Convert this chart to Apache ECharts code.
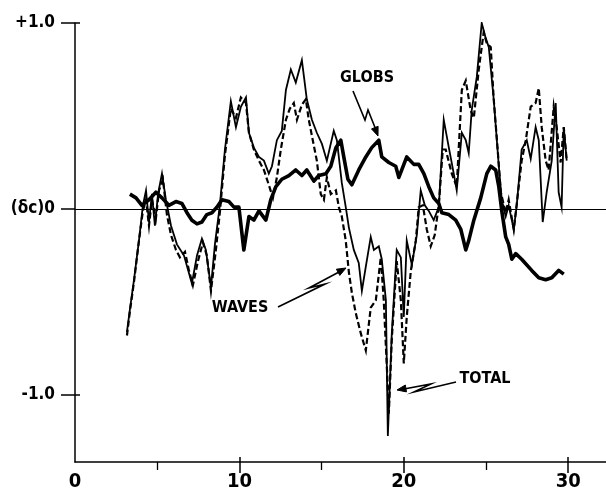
<!DOCTYPE html>
<html>
<head>
<meta charset="utf-8">
<script src="https://cdn.jsdelivr.net/npm/echarts@6/dist/echarts.min.js"></script>
<style>
  html, body { margin: 0; padding: 0; background: #fff; }
  #chart { width: 606px; height: 492px; }
</style>
</head>
<body>
<div id="chart"></div>
<script>
// δc 随时间变化：TOTAL = WAVES + GLOBS

// 坐标轴范围与刻度
const xMin = 0;
const xMax = 32.3;
const yMin = -1.36;
const yMax = 1.0;
const xMajorTicks = [10, 20, 30];
const xMinorTicks = [5, 15, 25];
const xLabelValues = [0, 10, 20, 30];
const yTickValues = [-1, 0, 1];
const yTickLabels = { '-1': '-1.0', '0': '(δc)0', '1': '+1.0' };

// TOTAL（细实线）
const totalPts = [
  [3.16,-0.66],[3.34,-0.54],[3.59,-0.38],[3.89,-0.17],[4.13,0.02],[4.32,0.10],[4.50,-0.07],
  [4.68,0.08],[4.86,-0.09],[5.05,0.08],[5.29,0.19],[5.53,0.05],[5.84,-0.09],[6.20,-0.19],
  [6.63,-0.25],[7.11,-0.40],[7.42,-0.25],[7.72,-0.16],[7.96,-0.22],[8.27,-0.42],[8.51,-0.19],
  [8.81,0.02],[9.12,0.32],[9.48,0.58],[9.79,0.44],[10.09,0.55],[10.40,0.60],[10.58,0.41],
  [10.88,0.33],[11.19,0.28],[11.49,0.26],[11.79,0.19],[11.98,0.23],[12.28,0.37],[12.58,0.42],
  [12.83,0.64],[13.13,0.75],[13.43,0.68],[13.80,0.80],[14.10,0.59],[14.41,0.48],[14.71,0.41],
  [15.02,0.35],[15.32,0.26],[15.74,0.42],[15.93,0.37],[16.23,0.14],[16.47,0.01],[16.66,-0.10],
  [16.96,-0.22],[17.26,-0.29],[17.45,-0.44],[17.69,-0.31],[17.99,-0.15],[18.18,-0.22],[18.48,-0.20],
  [18.66,-0.27],[18.91,-0.49],[19.03,-1.22],[19.27,-0.67],[19.57,-0.22],[19.82,-0.26],[20.00,-0.58],
  [20.18,-0.17],[20.49,-0.30],[20.79,-0.14],[21.03,0.10],[21.28,0.02],[21.52,-0.01],[21.82,-0.06],
  [22.13,0.01],[22.43,0.48],[22.74,0.33],[23.04,0.19],[23.22,0.10],[23.53,0.41],[23.77,0.37],
  [23.95,0.30],[24.13,0.53],[24.44,0.71],[24.74,1.00],[24.98,0.92],[25.17,0.87],[25.47,0.59],
  [25.78,0.23],[25.96,0.05],[26.20,-0.04],[26.38,0.02],[26.69,-0.11],[26.87,0.02],[27.17,0.32],
  [27.48,0.37],[27.72,0.27],[28.02,0.44],[28.21,0.37],[28.45,-0.07],[28.69,0.09],[29.00,0.26],
  [29.24,0.57],[29.42,0.09],[29.60,0.01],[29.73,0.44],[29.91,0.26]
];

// WAVES（虚线）
const wavesPts = [
  [3.16,-0.68],[3.34,-0.55],[3.59,-0.39],[3.89,-0.17],[4.13,-0.01],[4.32,0.05],[4.50,-0.09],
  [4.68,0.05],[4.92,-0.05],[5.11,0.10],[5.35,0.16],[5.59,-0.03],[5.84,-0.14],[6.14,-0.22],
  [6.38,-0.26],[6.69,-0.23],[6.93,-0.33],[7.17,-0.41],[7.48,-0.28],[7.78,-0.18],[8.02,-0.25],
  [8.27,-0.44],[8.57,-0.22],[8.81,-0.02],[9.12,0.29],[9.48,0.54],[9.79,0.49],[10.09,0.60],
  [10.40,0.57],[10.58,0.41],[10.88,0.32],[11.19,0.26],[11.49,0.21],[11.79,0.13],[12.04,0.06],
  [12.28,0.17],[12.52,0.32],[12.83,0.48],[13.07,0.54],[13.31,0.57],[13.50,0.48],[13.80,0.56],
  [14.04,0.59],[14.22,0.48],[14.53,0.34],[14.71,0.26],[14.95,0.08],[15.14,0.05],[15.32,0.17],
  [15.56,0.08],[15.87,0.10],[16.05,0.01],[16.23,-0.04],[16.47,-0.17],[16.66,-0.34],[16.84,-0.45],
  [17.08,-0.56],[17.39,-0.67],[17.69,-0.76],[17.99,-0.53],[18.30,-0.49],[18.60,-0.26],[18.78,-0.49],
  [18.97,-0.85],[19.09,-1.10],[19.27,-0.70],[19.57,-0.28],[19.82,-0.49],[20.00,-0.83],[20.18,-0.58],
  [20.43,-0.33],[20.73,-0.17],[20.91,0.01],[21.16,0.02],[21.40,-0.11],[21.64,-0.20],[21.88,-0.14],
  [22.13,0.02],[22.37,0.32],[22.55,0.32],[22.92,0.19],[23.22,0.12],[23.53,0.64],[23.77,0.69],
  [24.07,0.53],[24.26,0.49],[24.56,0.75],[24.86,0.95],[25.05,0.89],[25.29,0.87],[25.47,0.59],
  [25.71,0.32],[25.90,0.09],[26.20,-0.02],[26.38,0.05],[26.69,-0.11],[26.99,0.12],[27.17,0.26],
  [27.42,0.37],[27.72,0.55],[28.02,0.57],[28.21,0.65],[28.39,0.44],[28.63,0.26],[28.81,0.21],
  [29.12,0.55],[29.30,0.44],[29.54,0.25],[29.73,0.44],[29.91,0.26]
];

// GLOBS（粗实线）
const globsPts = [
  [3.34,0.08],[3.71,0.06],[4.07,0.02],[4.50,0.05],[4.92,0.09],[5.29,0.06],[5.71,0.02],
  [6.14,0.04],[6.50,0.03],[6.81,-0.02],[7.11,-0.06],[7.42,-0.08],[7.72,-0.07],[8.02,-0.03],
  [8.33,-0.02],[8.63,0.01],[8.94,0.05],[9.36,0.04],[9.67,0.01],[9.97,0.01],[10.27,-0.22],
  [10.58,-0.04],[10.88,-0.06],[11.19,-0.01],[11.61,-0.06],[11.91,0.05],[12.22,0.12],[12.58,0.16],
  [13.01,0.18],[13.43,0.21],[13.80,0.18],[14.10,0.21],[14.53,0.15],[14.83,0.18],[15.26,0.19],
  [15.56,0.23],[15.87,0.33],[16.17,0.37],[16.35,0.28],[16.60,0.16],[16.84,0.13],[17.26,0.21],
  [17.69,0.28],[18.05,0.33],[18.48,0.37],[18.66,0.28],[19.09,0.25],[19.51,0.23],[19.70,0.17],
  [20.18,0.28],[20.61,0.24],[20.91,0.24],[21.22,0.19],[21.52,0.12],[21.82,0.06],[22.13,0.03],
  [22.31,-0.02],[22.74,-0.03],[23.16,-0.06],[23.47,-0.11],[23.77,-0.22],[23.95,-0.17],[24.26,-0.06],
  [24.68,0.06],[25.05,0.19],[25.29,0.23],[25.59,0.21],[25.78,0.12],[25.96,-0.01],[26.20,-0.15],
  [26.38,-0.19],[26.57,-0.27],[26.81,-0.24],[27.17,-0.27],[27.78,-0.33],[28.21,-0.37],[28.63,-0.38],
  [29.00,-0.37],[29.42,-0.33],[29.73,-0.35]
];

const fontFam = "'Liberation Sans Narrow', 'DejaVu Sans Condensed', 'Liberation Sans', sans-serif";

const chartDom = document.getElementById('chart');
const myChart = echarts.init(chartDom, null, { renderer: 'canvas' });

// 箭头（闪电形折线 + 三角箭头）
function arrowGraphic(points, head) {
  return [
    {
      type: 'polyline',
      shape: { points: points },
      style: { stroke: '#000', lineWidth: 1.6, fill: null },
      z: 100
    },
    {
      type: 'polygon',
      shape: { points: head },
      style: { fill: '#000', stroke: '#000', lineWidth: 1 },
      z: 100
    }
  ];
}

function labelGraphic(text, x, y) {
  return {
    type: 'text',
    x: x,
    y: y,
    style: {
      text: text,
      fill: '#000',
      font: "bold 16px " + fontFam,
      align: 'center',
      verticalAlign: 'middle'
    },
    z: 100
  };
}

const baseX = {
  type: 'value',
  min: xMin,
  max: xMax,
  position: 'bottom',
  offset: 0,
  splitLine: { show: false }
};

const option = {
  animation: false,
  backgroundColor: '#fff',
  grid: { left: 75, right: 0, top: 23, bottom: 30, containLabel: false },
  xAxis: [
    Object.assign({}, baseX, {
      axisLine: { show: true, onZero: false, lineStyle: { color: '#000', width: 1.5 } },
      axisTick: { show: true, customValues: xMajorTicks, length: 11, lineStyle: { color: '#000', width: 1.5 } },
      axisLabel: {
        show: true,
        customValues: xLabelValues,
        margin: 10,
        color: '#000',
        fontFamily: fontFam,
        fontWeight: 'bold',
        fontSize: 20,
        formatter: v => String(v)
      }
    }),
    Object.assign({}, baseX, {
      axisLine: { show: false, onZero: false },
      axisTick: { show: true, inside: true, customValues: xMajorTicks, length: 5, lineStyle: { color: '#000', width: 1.5 } },
      axisLabel: { show: false }
    }),
    Object.assign({}, baseX, {
      axisLine: { show: false, onZero: false },
      axisTick: { show: true, customValues: xMinorTicks, length: 8, lineStyle: { color: '#000', width: 1.3 } },
      axisLabel: { show: false }
    })
  ],
  yAxis: [
    {
      type: 'value',
      min: yMin,
      max: yMax,
      position: 'left',
      offset: 0,
      splitLine: { show: false },
      axisLine: { show: true, onZero: false, lineStyle: { color: '#000', width: 1.5 } },
      axisTick: { show: true, customValues: yTickValues, length: 14, lineStyle: { color: '#000', width: 1.5 } },
      axisLabel: {
        show: true,
        customValues: yTickValues,
        margin: 20,
        color: '#000',
        fontFamily: fontFam,
        fontWeight: 'bold',
        fontSize: 17,
        formatter: v => yTickLabels[String(Math.round(v))]
      }
    },
    {
      type: 'value',
      min: yMin,
      max: yMax,
      position: 'left',
      offset: 0,
      splitLine: { show: false },
      axisLine: { show: false, onZero: false },
      axisTick: { show: true, inside: true, customValues: [-1, 1], length: 5, lineStyle: { color: '#000', width: 1.5 } },
      axisLabel: { show: false }
    }
  ],
  series: [
    {
      name: 'GLOBS',
      type: 'line',
      data: globsPts,
      symbol: 'none',
      lineStyle: { color: '#000', width: 3.6, join: 'round' },
      markLine: {
        silent: true,
        symbol: 'none',
        label: { show: false },
        lineStyle: { color: '#000', width: 1.2, type: 'solid' },
        data: [{ yAxis: 0 }]
      },
      z: 3
    },
    {
      name: 'WAVES',
      type: 'line',
      data: wavesPts,
      symbol: 'none',
      lineStyle: { color: '#000', width: 2.2, type: [6, 3], join: 'miter' },
      z: 2
    },
    {
      name: 'TOTAL',
      type: 'line',
      data: totalPts,
      symbol: 'none',
      lineStyle: { color: '#000', width: 1.8, join: 'miter' },
      z: 4
    }
  ],
  graphic: [
    labelGraphic('GLOBS', 367, 78),
    labelGraphic('WAVES', 240, 308),
    labelGraphic('TOTAL', 485, 379)
  ]
    .concat(arrowGraphic([[353, 91], [365, 120], [368, 110], [376, 130]],
                         [[378, 136], [378.1, 126.3], [371.5, 128.9]]))
    .concat(arrowGraphic([[278, 307], [325, 284], [309, 288], [339, 272]],
                         [[346, 268], [339.8, 275.4], [336.4, 269.2]]))
    .concat(arrowGraphic([[456, 382], [414, 392], [431, 384], [404, 389]],
                         [[397, 390], [406.5, 391.9], [405.3, 385.0]]))
};

myChart.setOption(option);
console.log('chart rendered');
</script>
</body>
</html>
